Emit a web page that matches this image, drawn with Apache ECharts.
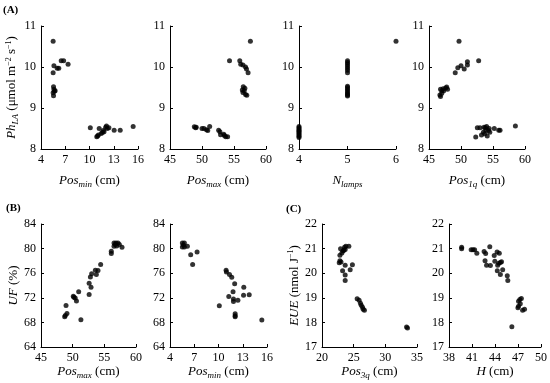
<!DOCTYPE html>
<html><head><meta charset="utf-8">
<script src="https://cdn.jsdelivr.net/npm/echarts@6/dist/echarts.min.js"></script>
<style>html,body{margin:0;padding:0;background:#fff}#c{width:550px;height:383px}</style>
</head><body><div id="c"></div>
<script>
// Panel A1: Pos_min (cm) vs Ph_LA
const phVsPosMin = [[5.5,10.63],[5.6,10.03],[5.5,9.86],[6.0,9.97],[6.2,9.97],[6.5,10.15],[6.8,10.15],[7.35,10.07],
 [5.55,9.52],[5.6,9.46],[5.75,9.42],[5.5,9.37],[5.55,9.3],[5.65,9.41],
 [10.1,8.52],[10.9,8.3],[11.2,8.5],[11.1,8.34],[11.45,8.38],[11.7,8.45],[11.8,8.42],[12.0,8.53],[12.2,8.5],[12.4,8.52],
 [13.05,8.46],[13.8,8.46],[15.4,8.55],[11.0,8.32],[12.1,8.56],[11.6,8.4]];
// Panel A2: Pos_max (cm) vs Ph_LA
const phVsPosMax = [[57.56,10.63],[54.3,10.15],[55.9,10.15],[56.05,10.07],[56.4,10.05],[56.8,10.0],[56.95,9.95],[57.2,9.86],
 [56.45,9.52],[56.7,9.48],[56.3,9.44],[56.4,9.38],[56.8,9.33],[57.0,9.31],[56.6,9.42],
 [48.8,8.54],[49.1,8.53],[50.0,8.5],[50.3,8.5],[50.7,8.47],[50.9,8.45],[51.2,8.55],[52.6,8.46],[52.8,8.42],[52.9,8.35],
 [53.5,8.33],[53.7,8.3],[54.0,8.3],[53.4,8.36],[49.0,8.52]];
// Panel A3: N_lamps vs Ph_LA
const phVsNLamps = [[4,8.28],[4,8.31],[4,8.34],[4,8.37],[4,8.4],[4,8.43],[4,8.46],[4,8.49],[4,8.52],[4,8.55],
 [5,9.29],[5,9.32],[5,9.35],[5,9.38],[5,9.42],[5,9.46],[5,9.5],[5,9.53],
 [5,9.86],[5,9.92],[5,9.97],[5,10.02],[5,10.07],[5,10.11],[5,10.15],[6,10.63]];
// Panel A4: Pos_1q (cm) vs Ph_LA
const phVsPos1q = [[49.69,10.63],[52.76,10.15],[51.0,10.13],[51.0,10.05],[50.0,10.03],[49.5,9.98],[50.5,9.95],[49.1,9.86],
 [46.8,9.46],[47.0,9.42],[47.2,9.47],[47.6,9.49],[47.76,9.51],[47.9,9.46],[47.3,9.42],[46.7,9.32],[46.8,9.28],[47.0,9.36],
 [58.5,8.56],[52.55,8.52],[52.97,8.52],[53.6,8.53],[54.0,8.55],[54.4,8.5],[55.2,8.5],[55.9,8.46],[56.1,8.46],[52.3,8.29],
 [53.2,8.34],[54.1,8.32],[53.5,8.41],[53.9,8.46],[54.3,8.45],[54.5,8.41],[53.7,8.37],[53.8,8.52]];
// Panel B1: Pos_max (cm) vs UF (%)
const ufVsPosMax = [[56.53,80.92],[56.84,80.92],[57.16,80.92],[56.53,80.38],[56.95,80.43],[57.37,80.65],[57.79,80.22],[56.7,80.65],
 [56.1,79.57],[56.1,79.19],[54.42,77.4],[53.58,76.49],[54.0,76.43],[53.74,75.78],[53.0,75.9],[52.8,75.4],
 [52.6,74.38],[52.9,73.73],[52.6,72.54],[50.95,72.97],[50.1,72.27],[50.4,71.95],[50.6,71.46],[50.2,72.1],
 [48.95,70.76],[49.1,69.46],[48.84,69.14],[48.74,68.9],[51.3,68.43]];
// Panel B2: Pos_min (cm) vs UF (%)
const ufVsPosMin = [[5.53,80.92],[5.78,80.92],[5.53,80.27],[5.78,80.27],[5.65,80.6],[6.15,80.4],
 [6.56,79.0],[7.35,79.46],[6.8,77.4],[10.94,76.5],[10.98,76.2],[11.36,75.8],[11.64,75.35],[12.0,74.3],
 [13.13,73.7],[11.8,73.0],[11.27,72.2],[11.85,71.8],[11.85,71.4],[12.4,71.6],[13.1,72.4],[13.8,72.5],
 [10.1,70.7],[12.06,69.4],[12.06,69.1],[12.06,68.9],[15.36,68.4]];
// Panel C1: Pos_3q (cm) vs EUE (nmol J-1)
const eueVsPos3q = [[22.93,20.99],[23.3,20.9],[23.56,21.05],[23.77,21.1],[24.24,21.1],[23.45,20.93],[23.14,20.82],[22.83,20.73],[23.66,20.96],
 [22.83,20.51],[22.72,20.42],[23.0,20.46],[23.66,20.32],[24.8,20.34],[23.25,20.1],[24.45,20.14],[23.66,19.93],[23.66,19.7],
 [25.55,18.96],[25.86,18.9],[26.07,18.78],[26.2,18.7],[26.4,18.62],[26.5,18.53],[26.7,18.49],[33.35,17.81],[33.5,17.77]];
// Panel C2: H (cm) vs EUE (nmol J-1)
const eueVsH = [[39.65,21.05],[39.65,20.99],[40.89,20.95],[41.13,20.95],[41.34,20.95],[41.63,20.81],
 [42.58,20.88],[42.78,20.8],[43.32,21.08],[42.7,20.51],[42.9,20.32],[43.4,20.31],
 [43.9,20.72],[44.27,20.86],[44.56,20.81],[43.98,20.49],[44.35,20.32],[44.5,20.4],[44.7,20.43],[44.85,20.47],
 [44.3,20.1],[44.7,19.95],[45.0,20.14],[45.6,19.9],[45.67,19.7],[46.2,17.82],
 [47.07,18.86],[47.24,18.93],[47.44,18.97],[47.07,18.66],[46.99,18.6],[47.3,18.76],[47.6,18.49],[47.85,18.53]];

const FF = '"Liberation Serif", "DejaVu Serif", serif';
const rich = {
  i: {fontFamily: FF, fontSize: 13, fontStyle: 'italic', color: '#000'},
  n: {fontFamily: FF, fontSize: 13, color: '#000'},
  sub: {fontFamily: FF, fontSize: 9, fontStyle: 'italic', color: '#000', padding: [7, 0, 0, 0]},
  sup: {fontFamily: FF, fontSize: 8, color: '#000', padding: [0, 0, 7, 0]}
};

const panels = [
  {left: 41, top: 26, w: 97, x: [4, 16, 3], y: [8, 11, 1], xn: '{i|Pos}{sub|min}{n| (cm)}', yn: '{i|Ph}{sub|LA}{n| (μmol m}{sup|−2}{n| s}{sup|−1}{n|)}', d: phVsPosMin, xg: 24, yg: 21},
  {left: 170, top: 26, w: 96, x: [45, 60, 5], y: [8, 11, 1], xn: '{i|Pos}{sub|max}{n| (cm)}', yn: '', d: phVsPosMax, xg: 24},
  {left: 299, top: 26, w: 97, x: [4, 6, 1], y: [8, 11, 1], xn: '{i|N}{sub|lamps}', yn: '', d: phVsNLamps, xg: 24},
  {left: 429, top: 26, w: 96, x: [45, 60, 5], y: [8, 11, 1], xn: '{i|Pos}{sub|1q}{n| (cm)}', yn: '', d: phVsPos1q, xg: 24},
  {left: 41, top: 224, w: 95, x: [45, 60, 5], y: [64, 84, 4], xn: '{i|Pos}{sub|max}{n| (cm)}', yn: '{i|UF}{n| (%)}', d: ufVsPosMax, xg: 17, yg: 20},
  {left: 170, top: 224, w: 97, x: [4, 16, 3], y: [64, 84, 4], xn: '{i|Pos}{sub|min}{n| (cm)}', yn: '', d: ufVsPosMin, xg: 17},
  {left: 322, top: 224, w: 95, x: [20, 35, 5], y: [17, 22, 1], xn: '{i|Pos}{sub|3q}{n| (cm)}', yn: '{i|EUE}{n| (nmol J}{sup|−1}{n|)}', d: eueVsPos3q, xg: 17, yg: 19},
  {left: 449, top: 224, w: 97, x: [38, 50, 3], y: [17, 22, 1], xn: '{i|H}{n| (cm)}', yn: '', d: eueVsH, xg: 17}
];

const axisCommon = {
  axisLine: {show: true, lineStyle: {color: '#000', width: 1}},
  axisTick: {show: true, inside: true, length: 3, lineStyle: {color: '#000'}},
  splitLine: {show: false},
  axisLabel: {color: '#000', fontFamily: FF, fontSize: 12, margin: 5}
};

const option = {
  animation: false,
  backgroundColor: '#fff',
  grid: panels.map(p => ({left: p.left, top: p.top, width: p.w, height: 123, containLabel: false})),
  xAxis: panels.map((p, k) => Object.assign({}, axisCommon, {
    type: 'value', gridIndex: k, min: p.x[0], max: p.x[1], interval: p.x[2],
    name: p.xn, nameLocation: 'middle', nameGap: p.xg,
    nameTextStyle: {rich: rich, fontFamily: FF, fontSize: 13, color: '#000'}
  })),
  yAxis: panels.map((p, k) => Object.assign({}, axisCommon, {
    type: 'value', gridIndex: k, min: p.y[0], max: p.y[1], interval: p.y[2],
    name: p.yn, nameLocation: 'middle', nameGap: p.yg || 20,
    nameTextStyle: {rich: rich, fontFamily: FF, fontSize: 13, color: '#000'}
  })),
  series: panels.map((p, k) => ({
    type: 'scatter', xAxisIndex: k, yAxisIndex: k, data: p.d,
    symbol: 'circle', symbolSize: 5, itemStyle: {color: '#000'}, silent: true
  })),
  graphic: [
    {type: 'text', left: 3, top: 5, style: {text: '(A)', font: 'bold 11px ' + FF, fill: '#000'}},
    {type: 'text', left: 6, top: 203, style: {text: '(B)', font: 'bold 11px ' + FF, fill: '#000'}},
    {type: 'text', left: 286, top: 204, style: {text: '(C)', font: 'bold 11px ' + FF, fill: '#000'}}
  ]
};
const chart = echarts.init(document.getElementById('c'), null, {renderer: 'canvas'});
chart.setOption(option);
</script></body></html>
